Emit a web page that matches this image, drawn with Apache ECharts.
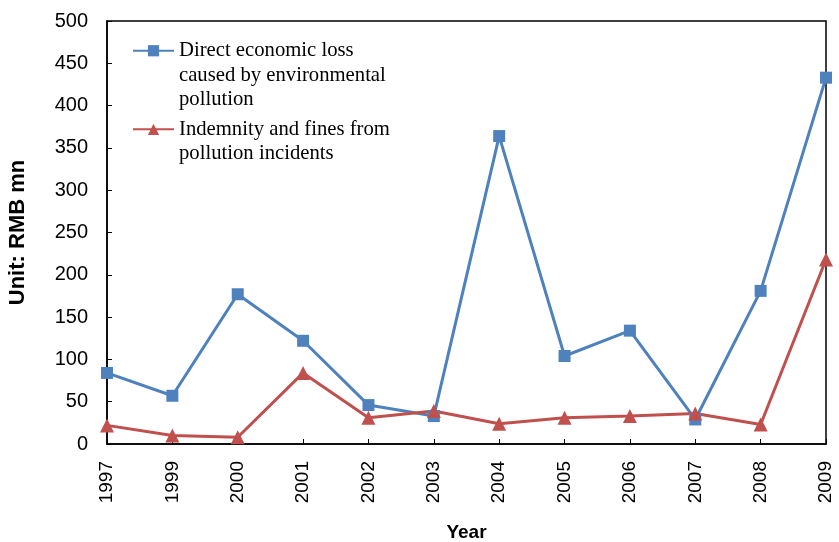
<!DOCTYPE html>
<html>
<head>
<meta charset="utf-8">
<script src="https://cdn.jsdelivr.net/npm/echarts@6/dist/echarts.min.js"></script>
<style>html,body{margin:0;padding:0;background:#fff}#c{width:839px;height:542px}</style>
</head>
<body>
<div id="c"></div>
<script>
const years = ['1997','1999','2000','2001','2002','2003','2004','2005','2006','2007','2008','2009'];
const directLoss = [84, 57, 177, 122, 46, 33, 364, 104, 134, 29, 181, 433];
const indemnity = [22, 10, 8, 84, 31, 39, 24, 31, 33, 36, 23, 218];
const yTicks = [0, 50, 100, 150, 200, 250, 300, 350, 400, 450, 500];
const nameLoss = 'Direct economic loss\ncaused by environmental\npollution';
const nameFine = 'Indemnity and fines from\npollution incidents';

const chart = echarts.init(document.getElementById('c'));
chart.setOption({
  animation: false,
  backgroundColor: '#fff',
  grid: { left: 107, right: 13, top: 21, bottom: 98, outerBoundsMode: 'none', containLabel: false,
          show: true, borderColor: '#000', borderWidth: 1.5, backgroundColor: 'transparent' },
  legend: {
    orient: 'vertical', left: 132, top: -10.5, padding: 0,
    itemWidth: 41, itemHeight: 14, itemGap: -19.4,
    textStyle: { fontFamily: 'Liberation Serif', fontSize: 20.7, color: '#000', lineHeight: 24.5 },
    formatter: function (name) {
      return (name === nameLoss ? '\n\n' : '\n') + name;
    },
    data: [nameLoss, nameFine]
  },
  xAxis: {
    type: 'category', data: years, boundaryGap: false,
    name: 'Year', nameLocation: 'middle', nameGap: 79.5,
    nameTextStyle: { fontFamily: 'Liberation Sans', fontWeight: 'bold', fontSize: 19, color: '#000' },
    axisLine: { lineStyle: { color: '#000', width: 1.5 } },
    axisTick: { inside: true, length: 5, lineStyle: { color: '#000' } },
    axisLabel: { rotate: 90, margin: 17, fontFamily: 'Liberation Sans', fontSize: 19, color: '#000' },
    splitLine: { show: false }
  },
  yAxis: {
    type: 'value', min: yTicks[0], max: yTicks[yTicks.length - 1], interval: 50,
    name: 'Unit: RMB mn', nameLocation: 'middle', nameGap: 78, nameRotate: 90,
    nameTextStyle: { fontFamily: 'Liberation Sans', fontWeight: 'bold', fontSize: 22, color: '#000' },
    axisLine: { show: true, lineStyle: { color: '#000', width: 1.5 } },
    axisTick: { show: true, inside: true, length: 5, lineStyle: { color: '#000' } },
    axisLabel: { margin: 19, fontFamily: 'Liberation Sans', fontSize: 20, color: '#000' },
    splitLine: { show: false }
  },
  series: [
    {
      name: nameLoss, type: 'line', data: directLoss,
      symbol: 'rect', symbolSize: 12,
      lineStyle: { color: '#4F81BD', width: 3 },
      itemStyle: { color: '#4F81BD' }
    },
    {
      name: nameFine, type: 'line', data: indemnity,
      symbol: 'triangle', symbolSize: 14,
      lineStyle: { color: '#C0504D', width: 3 },
      itemStyle: { color: '#C0504D' }
    }
  ]
});
</script>
</body>
</html>
